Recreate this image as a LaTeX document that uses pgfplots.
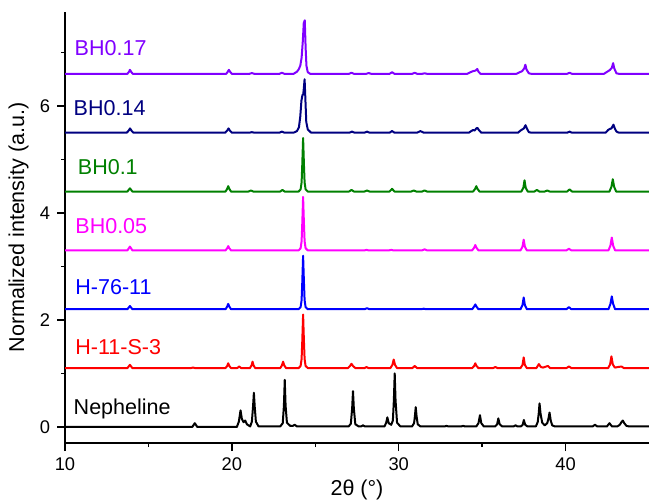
\documentclass[border=0pt]{standalone}
\usepackage{fontspec}
\setmainfont{Liberation Sans}
\usepackage{pgfplots}
\pgfplotsset{compat=1.18}
\usetikzlibrary{calc}
\definecolor{cNep}{RGB}{0,0,0}
\definecolor{cHS}{RGB}{255,0,0}
\definecolor{cH76}{RGB}{0,0,255}
\definecolor{cB05}{RGB}{255,0,255}
\definecolor{cB10}{RGB}{0,128,0}
\definecolor{cB14}{RGB}{0,0,128}
\definecolor{cB17}{RGB}{128,0,255}
\begin{document}
\begin{tikzpicture}
\begin{axis}[
 scale only axis, width=292bp, height=215.5bp,
 xmin=10, xmax=45, ymin=-0.3, ymax=7.756,
 axis x line=bottom, axis y line=left,
 axis line style={-, line width=0.65bp},
 tick align=outside, tick style={line width=0.65bp, black},
 major tick length=4bp, minor tick length=2bp,
 xtick={10,20,30,40}, minor xtick={15,25,35},
 ytick={0,2,4,6}, minor ytick={1,3,5,7},
 tick label style={font=\fontsize{9.2}{11}\selectfont},
 /pgf/number format/assume math mode=true,
 label style={font=\fontsize{10.8}{13}\selectfont},
 xlabel={2θ (°)}, ylabel={Normalized intensity (a.u.)},
 xlabel style={at={(axis description cs:0.5,-0.109)}, anchor=center},
 ylabel style={at={(axis description cs:-0.0796,0.5)}, anchor=center},
 no markers,
 every axis plot/.append style={line width=1bp, line join=round},
 clip=false,
]
% Nepheline
\addplot[cNep] coordinates {
(10,0)(17.63,0)(17.78,0.07)(17.93,0)(20.30,0)(20.42,0.1)(20.52,0.31)(20.60,0.15)(20.70,0.09)(20.80,0.12)(20.90,0.05)(21.10,0.01)(21.20,0.1)(21.27,0.38)(21.32,0.64)(21.37,0.38)(21.44,0.1)(21.60,0.01)(22.90,0.01)(23.05,0.07)(23.12,0.4)(23.17,0.88)(23.22,0.4)(23.30,0.08)(23.50,0.02)(23.65,0.02)(23.77,0.04)(23.90,0.01)(27.00,0.01)(27.13,0.06)(27.21,0.35)(27.26,0.67)(27.31,0.35)(27.40,0.05)(27.60,0.01)(27.75,0.01)(27.86,0.03)(27.97,0.01)(29.15,0.01)(29.25,0.08)(29.32,0.18)(29.40,0.07)(29.55,0.04)(29.65,0.12)(29.71,0.5)(29.76,1.0)(29.81,0.5)(29.90,0.08)(30.10,0.01)(30.80,0.01)(30.92,0.07)(30.97,0.2)(31.02,0.37)(31.07,0.2)(31.14,0.05)(31.30,0.01)(32.75,0.01)(32.86,0.02)(32.97,0.01)(33.75,0.01)(33.86,0.02)(33.97,0.01)(34.65,0.01)(34.78,0.07)(34.87,0.22)(34.95,0.07)(35.10,0.01)(35.78,0.01)(35.90,0.05)(35.97,0.16)(36.05,0.05)(36.20,0.01)(36.88,0.01)(37.00,0.03)(37.12,0.01)(37.32,0.01)(37.43,0.04)(37.50,0.13)(37.58,0.04)(37.72,0.01)(38.22,0.01)(38.33,0.09)(38.39,0.25)(38.44,0.44)(38.50,0.25)(38.60,0.08)(38.75,0.03)(38.90,0.07)(38.97,0.15)(39.04,0.27)(39.11,0.12)(39.20,0.03)(39.35,0.01)(41.62,0.01)(41.76,0.04)(41.90,0.01)(42.48,0.01)(42.63,0.07)(42.78,0.01)(43.10,0.01)(43.25,0.04)(43.35,0.09)(43.43,0.12)(43.52,0.07)(43.65,0.02)(43.80,0.01)(45,0.01)
};
% H-11-S-3
\addplot[cHS] coordinates {
(10,1.1)(13.74,1.1)(13.89,1.16)(14.04,1.1)(17.55,1.1)(17.67,1.11)(17.8,1.1)(19.62,1.1)(19.72,1.14)(19.78,1.19)(19.85,1.14)(19.95,1.1)(20.32,1.1)(20.44,1.13)(20.56,1.1)(21.08,1.1)(21.18,1.15)(21.24,1.22)(21.30,1.15)(21.40,1.1)(22.90,1.1)(23.00,1.15)(23.07,1.22)(23.14,1.15)(23.25,1.1)(24.00,1.1)(24.12,1.14)(24.18,1.27)(24.22,1.6)(24.27,2.1)(24.32,1.6)(24.36,1.27)(24.42,1.14)(24.55,1.1)(26.95,1.1)(27.08,1.14)(27.17,1.18)(27.26,1.14)(27.40,1.1)(27.95,1.1)(28.07,1.12)(28.20,1.1)(29.50,1.1)(29.62,1.16)(29.70,1.26)(29.78,1.16)(29.90,1.1)(30.82,1.1)(30.96,1.14)(31.10,1.1)(34.40,1.1)(34.52,1.14)(34.59,1.19)(34.66,1.14)(34.78,1.1)(35.65,1.1)(35.79,1.12)(35.93,1.1)(37.30,1.1)(37.42,1.16)(37.49,1.3)(37.56,1.16)(37.68,1.1)(38.25,1.1)(38.40,1.175)(38.52,1.12)(38.65,1.11)(38.94,1.14)(39.08,1.1)(40.05,1.1)(40.20,1.13)(40.35,1.1)(42.55,1.1)(42.67,1.17)(42.75,1.32)(42.83,1.17)(42.95,1.11)(43.35,1.13)(43.50,1.1)(45,1.1)
};
% H-76-11
\addplot[cH76] coordinates {
(10,2.2)(13.74,2.2)(13.89,2.26)(14.04,2.2)(19.62,2.2)(19.72,2.25)(19.78,2.3)(19.85,2.25)(19.95,2.2)(24.00,2.2)(24.12,2.24)(24.18,2.37)(24.22,2.7)(24.27,3.2)(24.32,2.7)(24.36,2.37)(24.42,2.24)(24.55,2.2)(27.95,2.2)(28.1,2.22)(28.25,2.2)(31.35,2.2)(31.5,2.21)(31.65,2.2)(34.40,2.2)(34.52,2.25)(34.59,2.29)(34.66,2.25)(34.78,2.2)(37.30,2.2)(37.42,2.28)(37.49,2.42)(37.56,2.28)(37.68,2.2)(40.05,2.2)(40.2,2.24)(40.35,2.2)(42.57,2.2)(42.69,2.3)(42.77,2.44)(42.85,2.3)(42.97,2.2)(45,2.2)
};
% BH0.05
\addplot[cB05] coordinates {
(10,3.3)(13.74,3.3)(13.89,3.37)(14.04,3.3)(19.62,3.3)(19.72,3.34)(19.78,3.38)(19.85,3.34)(19.95,3.3)(24.00,3.3)(24.12,3.34)(24.18,3.47)(24.22,3.8)(24.27,4.3)(24.32,3.8)(24.36,3.47)(24.42,3.34)(24.55,3.3)(27.95,3.3)(28.07,3.31)(28.2,3.3)(29.42,3.3)(29.55,3.31)(29.68,3.3)(31.4,3.3)(31.55,3.32)(31.7,3.3)(34.40,3.3)(34.52,3.35)(34.59,3.4)(34.66,3.35)(34.78,3.3)(37.30,3.3)(37.42,3.37)(37.49,3.5)(37.56,3.37)(37.68,3.3)(40.05,3.3)(40.2,3.33)(40.35,3.3)(42.57,3.3)(42.69,3.39)(42.77,3.54)(42.85,3.39)(42.97,3.3)(45,3.3)
};
% BH0.1
\addplot[cB10] coordinates {
(10,4.4)(13.74,4.4)(13.89,4.46)(14.04,4.4)(19.62,4.4)(19.72,4.45)(19.78,4.5)(19.85,4.45)(19.95,4.4)(21.0,4.4)(21.14,4.42)(21.28,4.4)(22.9,4.4)(23.03,4.43)(23.16,4.4)(24.00,4.4)(24.12,4.44)(24.18,4.57)(24.22,4.9)(24.27,5.4)(24.32,4.9)(24.36,4.57)(24.42,4.44)(24.55,4.4)(27.02,4.4)(27.17,4.43)(27.32,4.4)(27.95,4.4)(28.1,4.42)(28.25,4.4)(29.45,4.4)(29.6,4.45)(29.75,4.4)(30.75,4.4)(30.9,4.42)(31.05,4.4)(31.4,4.4)(31.55,4.42)(31.7,4.4)(34.46,4.4)(34.58,4.45)(34.65,4.5)(34.72,4.45)(34.84,4.4)(37.35,4.4)(37.47,4.47)(37.54,4.61)(37.61,4.47)(37.73,4.4)(38.13,4.4)(38.28,4.43)(38.43,4.4)(38.75,4.4)(38.9,4.42)(39.05,4.4)(40.09,4.4)(40.24,4.44)(40.39,4.4)(42.63,4.4)(42.75,4.49)(42.83,4.63)(42.91,4.49)(43.03,4.4)(45,4.4)
};
% BH0.14
\addplot[cB14] coordinates {
(10,5.5)(13.7,5.5)(13.82,5.54)(13.9,5.58)(13.98,5.54)(14.1,5.5)(19.6,5.5)(19.72,5.54)(19.8,5.58)(19.88,5.54)(20.0,5.5)(21.05,5.5)(21.2,5.51)(21.35,5.5)(22.85,5.5)(23.0,5.52)(23.15,5.5)(23.7,5.5)(23.9,5.53)(24.02,5.6)(24.1,5.8)(24.17,6.1)(24.23,6.2)(24.28,6.22)(24.32,6.35)(24.36,6.5)(24.41,6.1)(24.46,5.7)(24.55,5.56)(24.75,5.5)(27.05,5.5)(27.2,5.52)(27.35,5.5)(27.95,5.5)(28.1,5.52)(28.25,5.5)(29.45,5.5)(29.6,5.53)(29.75,5.5)(31.1,5.5)(31.3,5.53)(31.5,5.5)(34.2,5.5)(34.35,5.53)(34.45,5.55)(34.55,5.54)(34.65,5.58)(34.72,5.59)(34.8,5.55)(34.95,5.5)(37.15,5.5)(37.3,5.54)(37.4,5.56)(37.5,5.58)(37.6,5.64)(37.68,5.58)(37.8,5.51)(37.95,5.5)(40.1,5.5)(40.24,5.52)(40.38,5.5)(42.4,5.5)(42.55,5.55)(42.65,5.57)(42.75,5.58)(42.87,5.65)(42.95,5.58)(43.05,5.52)(43.2,5.5)(45,5.5)
};
% BH0.17
\addplot[cB17] coordinates {
(10,6.6)(13.74,6.6)(13.84,6.64)(13.89,6.675)(13.96,6.64)(14.06,6.6)(19.66,6.6)(19.76,6.64)(19.82,6.675)(19.89,6.64)(20.0,6.6)(21.05,6.6)(21.2,6.615)(21.35,6.6)(22.85,6.6)(23.0,6.62)(23.15,6.6)(23.7,6.6)(23.9,6.64)(24.0,6.68)(24.1,6.75)(24.18,6.9)(24.25,7.2)(24.31,7.55)(24.37,7.6)(24.42,7.1)(24.47,6.75)(24.55,6.63)(24.7,6.6)(27.02,6.6)(27.17,6.62)(27.32,6.6)(28.05,6.6)(28.2,6.615)(28.35,6.6)(29.45,6.6)(29.6,6.63)(29.75,6.6)(30.81,6.6)(30.96,6.62)(31.11,6.6)(31.4,6.6)(31.55,6.61)(31.7,6.6)(34.1,6.6)(34.3,6.63)(34.45,6.65)(34.6,6.66)(34.71,6.69)(34.78,6.64)(34.9,6.6)(37.05,6.6)(37.25,6.63)(37.4,6.65)(37.52,6.7)(37.59,6.77)(37.66,6.68)(37.8,6.61)(37.95,6.6)(40.09,6.6)(40.24,6.62)(40.39,6.6)(42.3,6.6)(42.5,6.64)(42.65,6.67)(42.77,6.71)(42.85,6.8)(42.92,6.7)(43.05,6.61)(43.2,6.6)(45,6.6)
};
\begin{scope}[font=\fontsize{10.8}{13}\selectfont]
\node[anchor=base west, inner sep=0pt, text=cNep] at (axis cs:10.5,0.24) {Nepheline};
\node[anchor=base west, inner sep=0pt, text=cHS] at (axis cs:10.6,1.35) {H-11-S-3};
\node[anchor=base west, inner sep=0pt, text=cH76] at (axis cs:10.6,2.47) {H-76-11};
\node[anchor=base west, inner sep=0pt, text=cB05] at (axis cs:10.6,3.61) {BH0.05};
\node[anchor=base west, inner sep=0pt, text=cB10] at (axis cs:10.75,4.71) {BH0.1};
\node[anchor=base west, inner sep=0pt, text=cB14] at (axis cs:10.5,5.83) {BH0.14};
\node[anchor=base west, inner sep=0pt, text=cB17] at (axis cs:10.56,6.95) {BH0.17};
\end{scope}
\end{axis}
\pgfresetboundingbox
\path ($(current axis.south west)+(-32.5bp,-29.5bp)$) rectangle ($(current axis.north east)+(0bp,6bp)$);
\end{tikzpicture}
\end{document}
